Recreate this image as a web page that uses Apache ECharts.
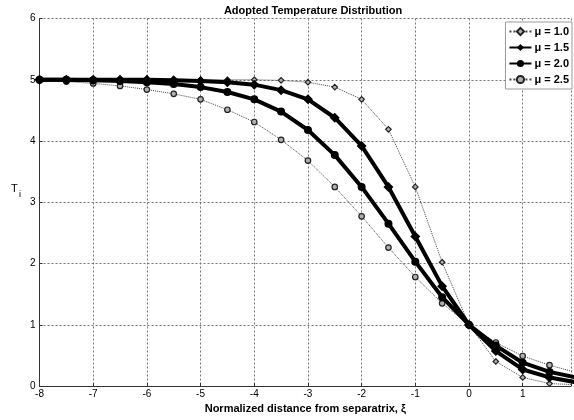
<!DOCTYPE html>
<html><head><meta charset="utf-8">
<script src="https://cdn.jsdelivr.net/npm/echarts@6/dist/echarts.min.js"></script>
<style>html,body{margin:0;padding:0;background:#fff}#c{width:574px;height:420px}</style>
</head><body><div id="c"></div>
<script>
var xs = [-8,-7.5,-7,-6.5,-6,-5.5,-5,-4.5,-4,-3.5,-3,-2.5,-2,-1.5,-1,-0.5,0,0.5,1,1.5,2];
var mu10 = [5.0,5.0,5.0,5.0,5.0,5.0,5.0,5.0,5.0,4.99,4.96,4.88,4.68,4.19,3.25,2.02,1.0,0.40,0.14,0.04,0.02];
var mu15 = [5.0,5.0,5.0,5.0,5.0,4.99,4.98,4.96,4.92,4.83,4.68,4.38,3.92,3.25,2.44,1.63,1.0,0.57,0.27,0.14,0.06];
var mu20 = [5.0,5.0,4.99,4.98,4.96,4.93,4.88,4.80,4.68,4.48,4.18,3.77,3.25,2.65,2.03,1.45,1.0,0.66,0.38,0.23,0.14];
var mu25 = [4.99,4.97,4.94,4.90,4.84,4.77,4.68,4.51,4.31,4.02,3.68,3.25,2.77,2.26,1.78,1.35,1.0,0.71,0.49,0.34,0.22];
var names = ['\u03bc = 1.0','\u03bc = 1.5','\u03bc = 2.0','\u03bc = 2.5'];
var xTicks = [-8,-7,-6,-5,-4,-3,-2,-1,0,1];
var yTicks = [0,1,2,3,4,5,6];

function pairs(v){ return xs.map(function(x,i){ return [x, v[i]]; }); }
var FONT = 'Liberation Sans, Arial, sans-serif';
var chart = echarts.init(document.getElementById('c'));
function thin(name, data, sym){
  return {name:name, type:'line', data:pairs(data), symbol:sym, symbolSize:5.5,
    lineStyle:{color:'#444', width:1, type:'dotted'},
    itemStyle:{color:'#b0b0b0', borderColor:'#222', borderWidth:1.2}, z:3};
}
function thick(name, data, sym, size){
  return {name:name, type:'line', data:pairs(data), symbol:sym, symbolSize:size,
    lineStyle:{color:'#000', width:4},
    itemStyle:{color:'#000', borderColor:'#000', borderWidth:0}, z:4};
}
chart.setOption({
  animation:false,
  backgroundColor:'#fff',
  title:{text:'Adopted Temperature Distribution', left:308, textAlign:'center', top:0,
    textStyle:{fontFamily:FONT, fontSize:11, fontWeight:'bold', color:'#000'}},
  grid:{left:39.5, right:0, top:18.5, bottom:34},
  legend:{orient:'vertical', right:2, top:22, data:names, itemWidth:22, itemHeight:9, itemGap:5,
    backgroundColor:'#fff', borderColor:'#999', borderWidth:1, padding:[4,3,4,3],
    textStyle:{fontFamily:FONT, fontSize:11, fontWeight:'bold', color:'#000', padding:[0,0,0,-2]}},
  xAxis:{type:'value', min:-8, max:1.9, interval:1,
    name:'Normalized distance from separatrix, \u03be', nameLocation:'middle', nameGap:16,
    nameTextStyle:{fontFamily:FONT, fontSize:11, fontWeight:'bold', color:'#000'},
    axisLine:{show:true, onZero:false, lineStyle:{color:'#333', width:1}},
    axisTick:{show:true, inside:true, length:3, lineStyle:{color:'#333'}},
    axisLabel:{fontFamily:FONT, fontSize:10, color:'#000', margin:3,
      formatter:function(v){ return xTicks.indexOf(v) >= 0 ? String(v) : ''; }},
    splitLine:{show:true, lineStyle:{color:'#777', type:[2,2], width:1}}},
  yAxis:{type:'value', min:0, max:6, interval:1,
    axisLine:{show:true, onZero:false, lineStyle:{color:'#333', width:1}},
    axisTick:{show:true, inside:true, length:3, lineStyle:{color:'#333'}},
    axisLabel:{fontFamily:FONT, fontSize:10, color:'#000', margin:4,
      formatter:function(v){ return yTicks.indexOf(v) >= 0 ? String(v) : ''; }},
    splitLine:{show:true, lineStyle:{color:'#777', type:[2,2], width:1}}},
  graphic:[
    {type:'text', left:11, top:183, style:{text:'T', font:'11px '+FONT, fill:'#000'}},
    {type:'text', left:19, top:190, style:{text:'i', font:'9px '+FONT, fill:'#000'}}
  ],
  series:[
    thin(names[0], mu10, 'diamond'),
    thick(names[1], mu15, 'diamond', 10),
    thick(names[2], mu20, 'circle', 8),
    thin(names[3], mu25, 'circle')
  ]
});
</script></body></html>
